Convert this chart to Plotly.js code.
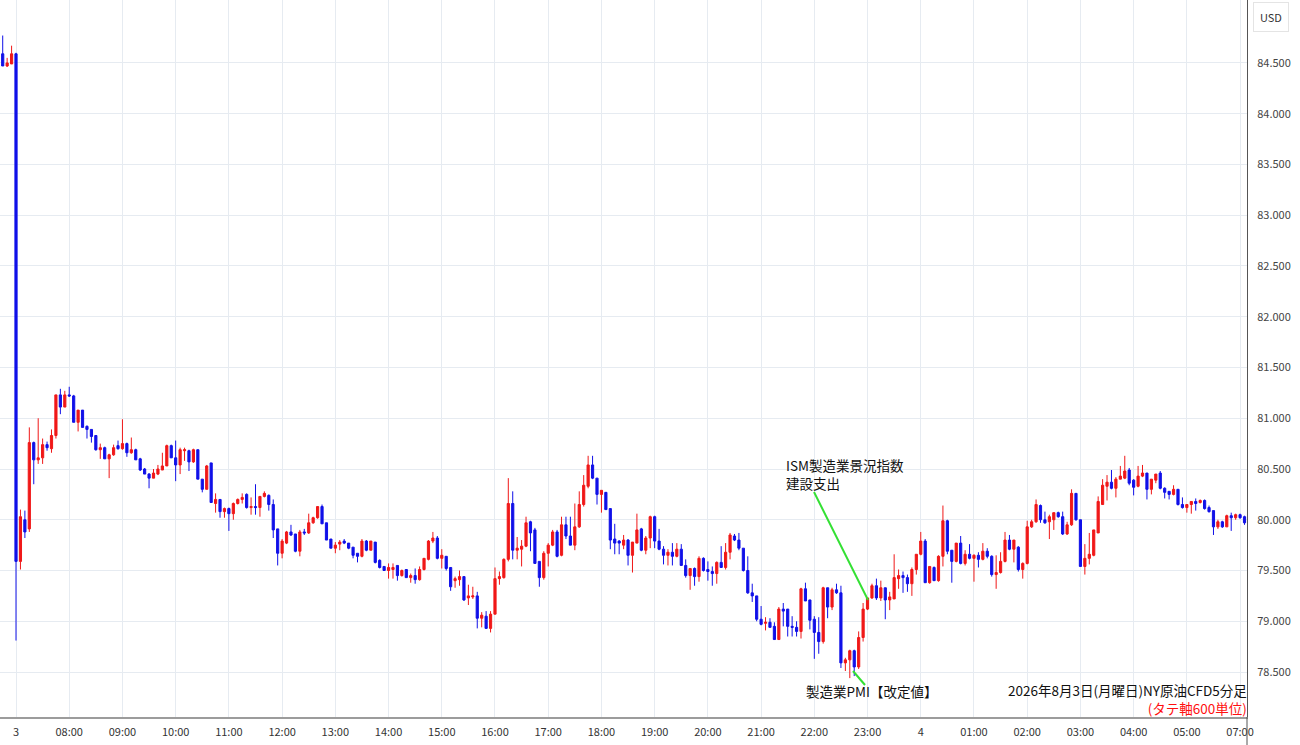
<!DOCTYPE html>
<html>
<head>
<meta charset="utf-8">
<script src="https://cdn.plot.ly/plotly-3.0.1.min.js"></script>
<style>
  html, body { margin: 0; padding: 0; background: #fff; }
  #chart { width: 1300px; height: 745px; }
</style>
</head>
<body>
<div id="chart"></div>
<script>
// ---- trading sessions (5-minute bars) ----
const sessions = [
  { date: '07/31', start: '05:45', bars: 3 },
  { date: '08/03', start: '07:00', bars: 204 },
  { date: '08/04', start: '00:00', bars: 72 },
  { date: '08/04', start: '07:00', bars: 2 }
];

// ---- OHLC values (USD) ----
const openP = [
  84.59, 84.47, 84.49,
  84.59, 79.59, 80.00, 79.91, 80.76, 80.59, 80.61, 80.74, 80.70, 80.83, 81.23, 81.11,
  81.23, 81.22, 80.96, 81.08, 80.92, 80.89, 80.83, 80.69, 80.71, 80.60, 80.64, 80.73,
  80.70, 80.75, 80.66, 80.69, 80.60, 80.50, 80.45, 80.41, 80.45, 80.49, 80.53, 80.73,
  80.61, 80.54, 80.68, 80.68, 80.57, 80.69, 80.40, 80.30, 80.56, 80.16, 80.20, 80.08,
  80.11, 80.06, 80.16, 80.20, 80.25, 80.12, 80.13, 80.12, 80.23, 80.24, 80.15, 79.91,
  79.67, 79.77, 79.88, 79.86, 79.69, 79.88, 79.87, 79.97, 80.02, 80.13, 79.97, 79.81,
  79.72, 79.76, 79.79, 79.77, 79.73, 79.67, 79.64, 79.79, 79.70, 79.78, 79.60, 79.54,
  79.50, 79.51, 79.55, 79.45, 79.51, 79.43, 79.45, 79.41, 79.51, 79.61, 79.79, 79.82,
  79.62, 79.64, 79.53, 79.40, 79.41, 79.44, 79.23, 79.24, 79.25, 79.03, 79.05, 78.93,
  79.07, 79.42, 79.43, 79.61, 80.16, 79.70, 79.71, 79.74, 79.98, 79.90, 79.59, 79.43,
  79.67, 79.75, 79.88, 79.65, 79.95, 79.84, 79.75, 79.93, 80.15, 80.33, 80.54, 80.41,
  80.25, 80.27, 80.11, 79.81, 79.79, 79.75, 79.80, 79.65, 79.77, 79.91, 79.70, 79.82,
  80.03, 79.79, 79.71, 79.65, 79.68, 79.64, 79.71, 79.55, 79.45, 79.52, 79.44, 79.62,
  79.51, 79.49, 79.47, 79.58, 79.53, 79.68, 79.84, 79.80, 79.72, 79.50, 79.28, 79.25,
  79.02, 78.98, 78.99, 78.95, 78.82, 79.12, 79.12, 78.95, 78.94, 78.90, 79.32, 79.21,
  79.02, 78.89, 78.80, 79.33, 79.14, 79.31, 79.28, 78.59, 78.62, 78.71, 78.55, 78.84,
  79.12, 79.23, 79.35, 79.23, 79.33, 79.21, 79.22, 79.42, 79.45, 79.43, 79.37, 79.51,
  79.66, 79.79, 79.38, 79.53, 79.40, 79.64, 79.99, 79.70, 79.59, 79.77, 79.57, 79.66,
  79.62, 79.65, 79.61, 79.69, 79.64, 79.46, 79.48, 79.59, 79.80, 79.71, 79.73, 79.51,
  79.57, 79.93, 79.98, 80.14, 80.00, 79.98, 80.00, 80.07, 80.03, 79.86, 79.95, 80.26,
  80.00, 79.54, 79.62, 79.65, 79.87, 80.15, 80.33, 80.37, 80.31, 80.40, 80.41, 80.49,
  80.39, 80.33, 80.43, 80.46, 80.30, 80.39, 80.46, 80.31, 80.28, 80.25, 80.30, 80.15,
  80.12, 80.15, 80.18, 80.17, 80.19, 80.12, 80.09, 79.93, 79.98, 79.93, 80.04, 80.02,
  80.05, 80.03
];
const highP = [
  84.77, 84.55, 84.67,
  84.60, 80.10, 80.09, 80.91, 80.77, 81.00, 80.80, 80.77, 80.89, 81.23, 81.29, 81.27,
  81.31, 81.23, 81.08, 81.08, 80.93, 80.89, 80.83, 80.75, 80.72, 80.65, 80.74, 80.78,
  80.99, 80.76, 80.81, 80.70, 80.61, 80.51, 80.46, 80.50, 80.54, 80.66, 80.74, 80.74,
  80.78, 80.71, 80.71, 80.69, 80.70, 80.69, 80.40, 80.54, 80.56, 80.26, 80.20, 80.12,
  80.12, 80.17, 80.21, 80.26, 80.26, 80.22, 80.35, 80.23, 80.28, 80.25, 80.20, 79.91,
  79.81, 79.89, 79.95, 79.86, 79.90, 79.91, 80.06, 80.03, 80.13, 80.15, 79.97, 79.81,
  79.78, 79.80, 79.81, 79.77, 79.73, 79.67, 79.81, 79.80, 79.79, 79.78, 79.61, 79.54,
  79.57, 79.57, 79.55, 79.51, 79.51, 79.47, 79.52, 79.54, 79.62, 79.80, 79.88, 79.84,
  79.71, 79.64, 79.53, 79.44, 79.50, 79.44, 79.36, 79.34, 79.29, 79.09, 79.10, 79.10,
  79.53, 79.49, 79.62, 80.41, 80.28, 79.83, 79.80, 80.03, 79.99, 79.92, 79.59, 79.69,
  79.77, 79.90, 79.90, 80.03, 80.03, 80.03, 80.16, 80.28, 80.44, 80.63, 80.63, 80.41,
  80.29, 80.27, 80.11, 79.96, 79.80, 79.85, 79.81, 79.78, 80.06, 79.92, 79.84, 80.04,
  80.04, 79.91, 79.74, 79.71, 79.77, 79.77, 79.76, 79.61, 79.52, 79.53, 79.64, 79.63,
  79.59, 79.54, 79.59, 79.74, 79.77, 79.87, 79.86, 79.87, 79.72, 79.64, 79.37, 79.25,
  79.15, 79.04, 79.03, 78.99, 79.14, 79.18, 79.12, 79.05, 79.00, 79.33, 79.38, 79.21,
  79.05, 79.04, 79.34, 79.33, 79.33, 79.37, 79.35, 78.64, 78.72, 78.72, 78.90, 79.18,
  79.23, 79.37, 79.42, 79.40, 79.33, 79.29, 79.66, 79.51, 79.49, 79.46, 79.53, 79.66,
  79.88, 79.81, 79.54, 79.54, 79.65, 80.14, 80.00, 79.70, 79.77, 79.84, 79.70, 79.76,
  79.66, 79.68, 79.77, 79.72, 79.65, 79.65, 79.68, 79.88, 79.85, 79.80, 79.74, 79.58,
  79.99, 80.00, 80.20, 80.15, 80.08, 80.05, 80.07, 80.08, 80.08, 79.98, 80.30, 80.26,
  80.00, 79.76, 79.87, 79.90, 80.23, 80.40, 80.44, 80.49, 80.42, 80.53, 80.63, 80.51,
  80.40, 80.53, 80.54, 80.46, 80.40, 80.45, 80.48, 80.32, 80.28, 80.34, 80.30, 80.22,
  80.15, 80.18, 80.21, 80.20, 80.20, 80.14, 80.09, 80.00, 79.99, 80.05, 80.07, 80.06,
  80.06, 80.04
];
const lowP = [
  84.47, 84.46, 84.49,
  78.81, 79.51, 79.82, 79.88, 80.35, 80.55, 80.55, 80.68, 80.66, 80.80, 81.04, 81.11,
  81.21, 80.96, 80.87, 80.91, 80.80, 80.76, 80.68, 80.60, 80.60, 80.41, 80.63, 80.69,
  80.69, 80.62, 80.65, 80.59, 80.48, 80.45, 80.31, 80.41, 80.44, 80.49, 80.53, 80.61,
  80.38, 80.45, 80.58, 80.48, 80.56, 80.40, 80.27, 80.30, 80.17, 80.07, 80.02, 80.02,
  79.89, 80.00, 80.15, 80.16, 80.11, 80.05, 80.05, 80.03, 80.22, 80.09, 79.82, 79.55,
  79.62, 79.76, 79.84, 79.68, 79.64, 79.85, 79.86, 79.96, 80.01, 79.96, 79.80, 79.72,
  79.67, 79.70, 79.76, 79.71, 79.62, 79.58, 79.63, 79.69, 79.70, 79.57, 79.52, 79.50,
  79.42, 79.42, 79.40, 79.44, 79.43, 79.38, 79.37, 79.40, 79.50, 79.60, 79.77, 79.61,
  79.52, 79.50, 79.30, 79.33, 79.35, 79.20, 79.16, 79.22, 78.93, 78.94, 78.93, 78.89,
  79.07, 79.36, 79.42, 79.59, 79.61, 79.61, 79.54, 79.73, 79.69, 79.57, 79.34, 79.41,
  79.54, 79.74, 79.63, 79.64, 79.81, 79.75, 79.70, 79.92, 80.13, 80.31, 80.40, 80.15,
  80.07, 80.10, 79.71, 79.66, 79.66, 79.71, 79.55, 79.48, 79.77, 79.69, 79.66, 79.72,
  79.72, 79.70, 79.56, 79.55, 79.55, 79.63, 79.55, 79.43, 79.31, 79.35, 79.39, 79.49,
  79.40, 79.35, 79.37, 79.53, 79.51, 79.61, 79.79, 79.70, 79.49, 79.27, 79.19, 79.00,
  78.96, 78.91, 78.94, 78.82, 78.82, 78.95, 78.85, 78.85, 78.85, 78.83, 79.20, 78.92,
  78.63, 78.68, 78.78, 79.03, 79.11, 79.27, 78.54, 78.51, 78.44, 78.46, 78.53, 78.80,
  79.11, 79.22, 79.21, 79.20, 79.02, 79.11, 79.22, 79.32, 79.28, 79.29, 79.25, 79.46,
  79.65, 79.38, 79.37, 79.40, 79.39, 79.54, 79.66, 79.38, 79.58, 79.56, 79.55, 79.61,
  79.39, 79.53, 79.60, 79.62, 79.44, 79.32, 79.47, 79.58, 79.70, 79.58, 79.49, 79.42,
  79.56, 79.92, 79.97, 79.97, 79.96, 79.81, 79.90, 80.02, 79.85, 79.85, 79.94, 79.99,
  79.54, 79.46, 79.56, 79.64, 79.87, 80.15, 80.19, 80.30, 80.22, 80.40, 80.40, 80.34,
  80.24, 80.32, 80.42, 80.20, 80.25, 80.36, 80.30, 80.21, 80.20, 80.24, 80.14, 80.11,
  80.07, 80.06, 80.09, 80.16, 80.10, 80.07, 79.85, 79.91, 79.92, 79.93, 79.89, 80.00,
  80.01, 79.95
];
const closeP = [
  84.47, 84.50, 84.59,
  79.59, 80.03, 79.88, 80.76, 80.59, 80.61, 80.74, 80.71, 80.83, 81.23, 81.11, 81.23,
  81.22, 80.96, 81.08, 80.91, 80.89, 80.82, 80.69, 80.71, 80.60, 80.64, 80.71, 80.70,
  80.75, 80.66, 80.69, 80.59, 80.49, 80.45, 80.41, 80.46, 80.50, 80.53, 80.73, 80.61,
  80.54, 80.69, 80.69, 80.57, 80.69, 80.40, 80.30, 80.53, 80.17, 80.20, 80.08, 80.11,
  80.06, 80.16, 80.20, 80.22, 80.12, 80.13, 80.12, 80.23, 80.26, 80.15, 79.90, 79.67,
  79.79, 79.88, 79.85, 79.69, 79.88, 79.87, 79.97, 80.02, 80.13, 79.96, 79.80, 79.72,
  79.75, 79.78, 79.77, 79.72, 79.65, 79.64, 79.79, 79.70, 79.79, 79.58, 79.53, 79.50,
  79.53, 79.53, 79.45, 79.50, 79.43, 79.45, 79.41, 79.51, 79.62, 79.79, 79.82, 79.62,
  79.65, 79.52, 79.34, 79.42, 79.44, 79.21, 79.25, 79.25, 79.03, 79.06, 78.93, 79.07,
  79.42, 79.44, 79.61, 80.16, 79.70, 79.72, 79.74, 79.97, 79.87, 79.57, 79.43, 79.67,
  79.75, 79.88, 79.64, 79.95, 79.84, 79.75, 79.93, 80.15, 80.34, 80.54, 80.41, 80.25,
  80.29, 80.10, 79.80, 79.77, 79.77, 79.80, 79.65, 79.78, 79.90, 79.70, 79.82, 80.03,
  79.79, 79.71, 79.65, 79.68, 79.64, 79.71, 79.55, 79.45, 79.52, 79.44, 79.62, 79.50,
  79.49, 79.47, 79.58, 79.53, 79.68, 79.85, 79.80, 79.72, 79.50, 79.28, 79.25, 79.02,
  78.97, 78.99, 78.94, 78.82, 79.12, 79.10, 78.95, 78.94, 78.90, 79.32, 79.20, 79.01,
  78.89, 78.80, 79.33, 79.14, 79.31, 79.28, 78.59, 78.62, 78.71, 78.55, 78.84, 79.12,
  79.23, 79.35, 79.23, 79.33, 79.21, 79.24, 79.43, 79.45, 79.43, 79.37, 79.51, 79.66,
  79.79, 79.38, 79.54, 79.40, 79.64, 79.99, 79.69, 79.59, 79.77, 79.57, 79.66, 79.62,
  79.65, 79.61, 79.69, 79.64, 79.46, 79.48, 79.59, 79.80, 79.71, 79.80, 79.51, 79.57,
  79.93, 79.98, 80.15, 80.00, 79.97, 80.03, 80.07, 80.03, 79.86, 79.95, 80.26, 80.00,
  79.54, 79.62, 79.66, 79.90, 80.18, 80.34, 80.37, 80.31, 80.40, 80.43, 80.48, 80.36,
  80.32, 80.43, 80.46, 80.30, 80.40, 80.45, 80.31, 80.27, 80.25, 80.30, 80.15, 80.12,
  80.15, 80.18, 80.16, 80.19, 80.11, 80.08, 79.93, 79.98, 79.93, 80.04, 80.02, 80.05,
  80.02, 79.97
];

// ---- axis tick labels ----
const tickText = ['3', '08:00', '09:00', '10:00', '11:00', '12:00', '13:00', '14:00',
  '15:00', '16:00', '17:00', '18:00', '19:00', '20:00', '21:00', '22:00', '23:00',
  '4', '01:00', '02:00', '03:00', '04:00', '05:00', '07:00'];
const priceTicks = [78.5, 79.0, 79.5, 80.0, 80.5, 81.0, 81.5, 82.0, 82.5, 83.0, 83.5, 84.0, 84.5];

// ---- build time categories from the sessions ----
const pad = n => String(n).padStart(2, '0');
const times = [];
sessions.forEach(s => {
  const [h, m] = s.start.split(':').map(Number);
  for (let k = 0; k < s.bars; k++) {
    const t = h * 60 + m + 5 * k;
    times.push(s.date + ' ' + pad(Math.floor(t / 60)) + ':' + pad(t % 60));
  }
});
const tickVals = times.filter(t => t.startsWith('08/0') && t.endsWith(':00'));

// pixel helpers for the plot frame (plot area 1247 x 717)
const PW = 1247, PH = 717;
const px = x => x / PW;
const py = y => 1 - y / PH;

const jp = '"Noto Sans CJK JP", "Noto Sans", sans-serif';
const RED = '#f01818', BLUE = '#1010e8', GREEN = '#33e033';

const trace = {
  type: 'candlestick',
  x: times,
  open: openP, high: highP, low: lowP, close: closeP,
  increasing: { line: { color: RED, width: 1 }, fillcolor: RED },
  decreasing: { line: { color: BLUE, width: 1 }, fillcolor: BLUE },
  whiskerwidth: 0,
  hoverinfo: 'skip',
  showlegend: false
};

const nBefore = sessions[0].bars;
const layout = {
  width: 1300, height: 745,
  margin: { l: 0, r: 53, t: 0, b: 28, pad: 0 },
  paper_bgcolor: '#ffffff', plot_bgcolor: '#ffffff',
  boxgap: 0.3,
  showlegend: false,
  font: { family: jp, size: 11, color: '#333' },
  xaxis: {
    type: 'category',
    range: [nBefore - 3.61, nBefore + 277.56],
    rangeslider: { visible: false },
    tickmode: 'array', tickvals: tickVals, ticktext: tickText,
    tickangle: 0,
    showgrid: true, gridcolor: '#e6ebf1', gridwidth: 1,
    showline: true, linecolor: '#9c9c9c', linewidth: 2,
    ticks: 'outside', ticklen: 4, tickcolor: 'rgba(0,0,0,0)',
    tickfont: { family: jp, size: 11, color: '#333' },
    zeroline: false, fixedrange: true
  },
  yaxis: {
    side: 'right',
    range: [78.057, 85.12],
    tickmode: 'array', tickvals: priceTicks,
    ticktext: priceTicks.map(v => v.toFixed(3)),
    showgrid: true, gridcolor: '#e6ebf1', gridwidth: 1,
    showline: true, linecolor: '#555', linewidth: 1,
    ticks: 'outside', ticklen: 7, tickcolor: 'rgba(0,0,0,0)',
    tickfont: { family: jp, size: 11, color: '#444' },
    zeroline: false, fixedrange: true
  },
  shapes: [
    { type: 'line', xref: 'paper', yref: 'paper', x0: 1, x1: 1, y0: 0, y1: -28 / PH,
      line: { color: '#555', width: 1 } },
    { type: 'line', xref: 'paper', yref: 'paper', x0: px(814), y0: py(492), x1: px(868), y1: py(600),
      line: { color: GREEN, width: 2 } },
    { type: 'line', xref: 'paper', yref: 'paper', x0: px(853), y0: py(671), x1: px(865), y1: py(685),
      line: { color: GREEN, width: 2 } }
  ],
  annotations: [
    { xref: 'paper', yref: 'paper', x: px(1271), y: py(17), text: 'USD', showarrow: false,
      font: { family: jp, size: 11, color: '#333' },
      bgcolor: '#fff', bordercolor: '#e4e4e4', borderwidth: 1, borderpad: 6,
      xanchor: 'center', yanchor: 'middle' },
    { xref: 'paper', yref: 'paper', x: px(785), y: py(474), text: 'ISM製造業景況指数<br>建設支出',
      showarrow: false, align: 'left', borderpad: 0,
      font: { family: jp, size: 13.5, color: '#111' }, xanchor: 'left', yanchor: 'middle' },
    { xref: 'paper', yref: 'paper', x: px(871), y: py(691), text: '製造業PMI【改定値】', showarrow: false,
      font: { family: jp, size: 13.5, color: '#111' }, xanchor: 'center', yanchor: 'middle' },
    { xref: 'paper', yref: 'paper', x: px(1248), y: py(699),
      text: '2026年8月3日(月曜日)NY原油CFD5分足<br><span style="color:#ff1010">(タテ軸600単位)</span>',
      showarrow: false, align: 'right', borderpad: 0,
      font: { family: jp, size: 13.5, color: '#111' }, xanchor: 'right', yanchor: 'middle' }
  ]
};

const n = times.length;
if (openP.length !== n || highP.length !== n || lowP.length !== n || closeP.length !== n) {
  layout.annotations.push({ xref: 'paper', yref: 'paper', x: 0.3, y: 0.9, showarrow: false,
    text: 'LEN MISMATCH ' + [n, openP.length, highP.length, lowP.length, closeP.length].join(','),
    font: { size: 20, color: 'magenta' } });
}

Plotly.newPlot('chart', [trace], layout, { displayModeBar: false, staticPlot: true });
</script>
</body>
</html>
